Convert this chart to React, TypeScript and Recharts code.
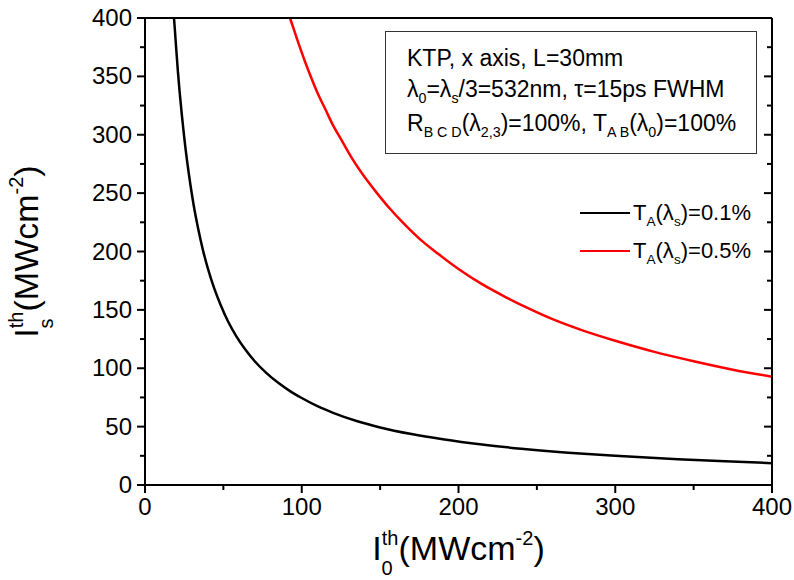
import { Line, LineChart, XAxis, YAxis } from "recharts";

// tick values
const xTicks = [0, 50, 100, 150, 200, 250, 300, 350, 400];
const yTicks = [0, 25, 50, 75, 100, 125, 150, 175, 200, 225, 250, 275, 300, 325, 350, 375, 400];

// T_A = 0.1 %
const blackX = [18.5, 19, 20, 21, 22, 23.5, 25, 27, 29, 31, 34, 37, 40, 44, 48, 53, 58, 64, 70, 77, 85, 93, 100, 110, 120, 135, 150, 170, 190, 215, 240, 270, 300, 340, 370, 400];
const blackY = [400, 391, 372, 354, 338, 317, 298, 276, 257, 240, 219, 201, 186, 169, 155, 140, 128, 116, 106, 96.5, 87.5, 80, 74.5, 67.5, 61.8, 54.8, 49.3, 43.6, 39.1, 34.6, 31.1, 27.7, 25, 22.1, 20.3, 18.7];

// T_A = 0.5 %
const redX = [92.5, 95, 98, 102, 106, 110, 115, 120, 126, 132, 140, 148, 156, 165, 175, 187, 200, 215, 230, 245, 260, 280, 300, 325, 350, 375, 400];
const redY = [400, 390, 378, 363, 349, 336, 322, 308, 294, 280, 264, 250, 237, 224, 211, 198, 185, 172, 161, 151, 142, 132, 123.5, 114, 106, 98.8, 92.8];

const seriesNames = ["0.1%", "0.5%"];
const seriesColors = ["#000000", "#ff0000"];

const blackData = blackX.map((x, i) => ({ x, y: blackY[i] }));
const redData = redX.map((x, i) => ({ x, y: redY[i] }));

const font = "'Liberation Sans', Arial, sans-serif";
const tickFont = 24;

const BottomTick = (props: any) => {
  const { x, y, payload } = props;
  const major = payload.value % 100 === 0;
  return (
    <g>
      <line x1={x} x2={x} y1={y} y2={y + (major ? 8 : 5)} stroke="#000" strokeWidth={2} />
      {major && (
        <text x={x} y={y + 30} textAnchor="middle" fontSize={tickFont} fontFamily={font} fill="#000">
          {payload.value}
        </text>
      )}
    </g>
  );
};

const TopTick = (props: any) => {
  const { x, y, payload } = props;
  const major = payload.value % 100 === 0;
  return <line x1={x} x2={x} y1={y} y2={y + (major ? 8 : 5)} stroke="#000" strokeWidth={2} />;
};

const LeftTick = (props: any) => {
  const { x, y, payload } = props;
  const major = payload.value % 50 === 0;
  return (
    <g>
      <line x1={x} x2={x - (major ? 8 : 5)} y1={y} y2={y} stroke="#000" strokeWidth={2} />
      {major && (
        <text x={x - 13} y={y + 8} textAnchor="end" fontSize={tickFont} fontFamily={font} fill="#000">
          {payload.value}
        </text>
      )}
    </g>
  );
};

const RightTick = (props: any) => {
  const { x, y, payload } = props;
  const major = payload.value % 50 === 0;
  return <line x1={x} x2={x - (major ? 8 : 5)} y1={y} y2={y} stroke="#000" strokeWidth={2} />;
};

const XTitle = (props: any) => {
  const { viewBox } = props;
  const cx = viewBox.x + viewBox.width / 2;
  return (
    <text x={cx} y={560} textAnchor="middle" fontSize={34} fontFamily={font} fill="#000">
      I
      <tspan fontSize={20} dy={-15}>th</tspan>
      <tspan fontSize={20} dx={-17} dy={30}>0</tspan>
      <tspan dx={6} dy={-15}>(MWcm</tspan>
      <tspan fontSize={20} dy={-15}>-2</tspan>
      <tspan dy={15}>)</tspan>
    </text>
  );
};

const YTitle = (props: any) => {
  const { viewBox } = props;
  const cy = viewBox.y + viewBox.height / 2;
  return (
    <text x={38} y={cy} transform={`rotate(-90 38 ${cy})`} textAnchor="middle" fontSize={34} fontFamily={font} fill="#000">
      I
      <tspan fontSize={20} dy={-15}>th</tspan>
      <tspan fontSize={20} dx={-17} dy={30}>s</tspan>
      <tspan dx={7} dy={-15}>(MWcm</tspan>
      <tspan fontSize={20} dy={-15}>-2</tspan>
      <tspan dy={15}>)</tspan>
    </text>
  );
};

const sub = (s: string) => (
  <span style={{ fontSize: "0.62em", position: "relative", top: "0.45em" }}>{s}</span>
);

function SeriesLegend() {
  return (
    <div style={{ position: "absolute", left: 580, top: 194, fontFamily: font, fontSize: 22, color: "#000" }}>
      {seriesNames.map((name, i) => (
        <div key={name} style={{ display: "flex", alignItems: "center", height: 38 }}>
          <div style={{ width: 50, height: 0, borderTop: `2px solid ${seriesColors[i]}`, marginRight: 3 }} />
          <span>
            T{sub("A")}(λ{sub("s")})={name}
          </span>
        </div>
      ))}
    </div>
  );
}

export default function App() {
  return (
    <div style={{ position: "absolute", left: 0, top: 0, width: 794, height: 580, background: "#fff" }}>
      <LineChart width={794} height={580} margin={{ top: 17, right: 21, bottom: 0, left: 0 }}>
        <XAxis
          xAxisId="b"
          dataKey="x"
          type="number"
          domain={[0, 400]}
          ticks={xTicks}
          interval={0}
          height={95}
          tickSize={0}
          tickMargin={0}
          tick={<BottomTick />}
          axisLine={{ stroke: "#000", strokeWidth: 2 }}
          allowDataOverflow
          label={<XTitle />}
        />
        <XAxis
          xAxisId="t"
          orientation="top"
          type="number"
          domain={[0, 400]}
          ticks={xTicks}
          interval={0}
          height={1}
          tickSize={0}
          tickMargin={0}
          tick={<TopTick />}
          axisLine={{ stroke: "#000", strokeWidth: 2 }}
          allowDataOverflow
        />
        <YAxis
          yAxisId="l"
          type="number"
          domain={[0, 400]}
          ticks={yTicks}
          interval={0}
          width={145}
          tickSize={0}
          tickMargin={0}
          tick={<LeftTick />}
          axisLine={{ stroke: "#000", strokeWidth: 2 }}
          allowDataOverflow
          label={<YTitle />}
        />
        <YAxis
          yAxisId="r"
          orientation="right"
          type="number"
          domain={[0, 400]}
          ticks={yTicks}
          interval={0}
          width={1}
          tickSize={0}
          tickMargin={0}
          tick={<RightTick />}
          axisLine={{ stroke: "#000", strokeWidth: 2 }}
          allowDataOverflow
        />
        <Line
          data={blackData}
          xAxisId="b"
          yAxisId="l"
          dataKey="y"
          name={seriesNames[0]}
          type="monotone"
          stroke={seriesColors[0]}
          strokeWidth={2.5}
          dot={false}
          isAnimationActive={false}
        />
        <Line
          data={redData}
          xAxisId="b"
          yAxisId="l"
          dataKey="y"
          name={seriesNames[1]}
          type="monotone"
          stroke={seriesColors[1]}
          strokeWidth={2.5}
          dot={false}
          isAnimationActive={false}
        />
      </LineChart>
      <SeriesLegend />
      <div
        style={{
          position: "absolute",
          left: 385,
          top: 31,
          width: 372,
          height: 123,
          boxSizing: "border-box",
          border: "1.3px solid #333",
          fontFamily: font,
          fontSize: 23,
          color: "#000",
          paddingLeft: 21,
          paddingTop: 11,
          lineHeight: "31px",
        }}
      >
        <div>KTP, x axis, L=30mm</div>
        <div>
          λ{sub("0")}=λ{sub("s")}/3=532nm, τ=15ps FWHM
        </div>
        <div>
          R{sub("B C D")}(λ{sub("2,3")})=100%, T{sub("A B")}(λ{sub("0")})=100%
        </div>
      </div>
    </div>
  );
}
